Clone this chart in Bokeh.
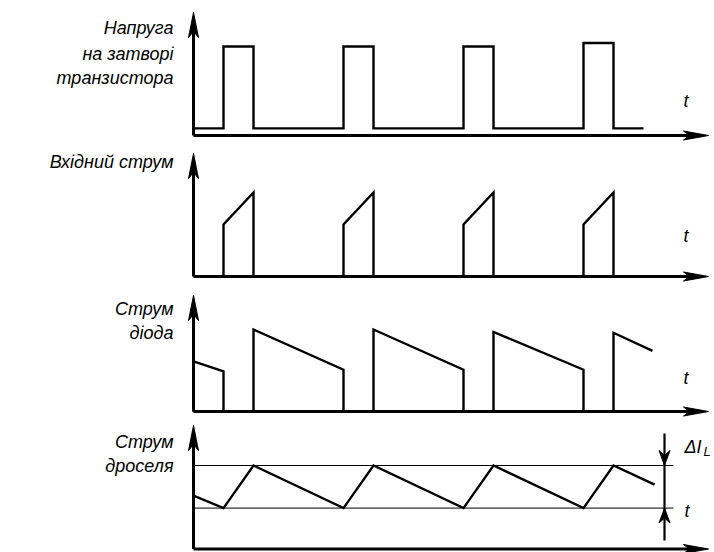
from bokeh.plotting import figure
from bokeh.layouts import column
from bokeh.models import Label, Range1d
from bokeh.embed import file_html
from bokeh.resources import INLINE

# ---------------- data (time in units, one switching period = 4 units) ----------------
pulse_on = [1, 5, 9, 13]
pulse_off = [2, 6, 10, 14]
t_end = 15

gate_low = 0.08
gate_high = [1.0, 1.0, 1.0, 1.04]

in_start = [0.62, 0.62, 0.62, 0.62]
in_peak = [1.0, 1.0, 1.0, 1.0]

diode_t0 = [0, 2, 6, 10, 14]
diode_t1 = [1, 5, 9, 13, 15.3]
diode_i0 = [0.61, 1.0, 1.0, 0.97, 0.96]
diode_i1 = [0.49, 0.51, 0.51, 0.51, 0.74]

ind_t = [0, 1, 2, 5, 6, 9, 10, 13, 14, 15.37]
ind_i = [0.64, 0.49, 1.0, 0.49, 1.0, 0.49, 1.0, 0.49, 1.0, 0.77]
ripple_max = 1.0
ripple_min = 0.49

labels_gate = ["Напруга", "на затворі", "транзистора"]
label_input = "Вхідний струм"
labels_diode = ["Струм", "діода"]
labels_ind = ["Струм", "дроселя"]
t_label = "t"

# ---------------- layout geometry (page pixels) ----------------
W = 714
X0 = 193          # page x of t = 0
PX_T = 30.0       # pixels per time unit
FONT = "Liberation Sans"

xr = Range1d(-X0 / PX_T, -X0 / PX_T + W / PX_T)

panels = [  # top, height, baseline, px per unit, arrow tip
    dict(top=0, h=141, base=135, s=89.0, tip=12),
    dict(top=141, h=141, base=276, s=84.0, tip=153),
    dict(top=282, h=135, base=411, s=82.0, tip=295),
    dict(top=417, h=135, base=548.5, s=83.5, tip=425),
]


def px(xp):
    return (xp - X0) / PX_T


def make_fig(g):
    yr = Range1d(-(g["top"] + g["h"] - g["base"]) / g["s"], (g["base"] - g["top"]) / g["s"])
    p = figure(width=W, height=g["h"], x_range=xr, y_range=yr, output_backend="svg",
               toolbar_location=None, min_border=0, x_axis_type=None, y_axis_type=None,
               outline_line_color=None)
    p.background_fill_color = "white"
    p.border_fill_color = "white"
    return p


def conv(g):
    return lambda yp: (g["base"] - yp) / g["s"]


def head(p, g, xt, yt, d, L, hw, notch):
    py = conv(g)
    if d == "up":
        pts = [(xt, yt), (xt - hw, yt + L), (xt, yt + L - notch), (xt + hw, yt + L)]
    elif d == "down":
        pts = [(xt, yt), (xt - hw, yt - L), (xt, yt - L + notch), (xt + hw, yt - L)]
    else:  # right
        pts = [(xt, yt), (xt - L, yt - hw), (xt - L + notch, yt), (xt - L, yt + hw)]
    p.patch([px(a) for a, b in pts], [py(b) for a, b in pts], color="black", line_width=1)


def axes(p, g):
    py = conv(g)
    p.line([0, 0], [0, py(g["tip"] + 14)], line_width=3, color="black")
    head(p, g, X0, g["tip"], "up", 25, 5, 6)
    p.line([0, px(694)], [0, 0], line_width=3, color="black")
    head(p, g, 708, g["base"], "right", 25, 4.5, 6)


def text(p, g, xp, yp, s, align="right", size="18px"):
    py = conv(g)
    p.add_layout(Label(x=px(xp), y=py(yp), text=s, text_align=align,
                       text_baseline="alphabetic", text_font=FONT,
                       text_font_style="italic", text_font_size=size, text_color="black"))


SIG = dict(line_width=2.4, color="black", line_join="miter")

# ---- panel 1: gate voltage ----
g = panels[0]
p1 = make_fig(g)
gx, gy = [0], [gate_low]
for a, b, hgh in zip(pulse_on, pulse_off, gate_high):
    gx += [a, a, b, b]
    gy += [gate_low, hgh, hgh, gate_low]
gx.append(t_end)
gy.append(gate_low)
p1.line(gx, gy, **SIG)
axes(p1, g)
for s, yb in zip(labels_gate, [27, 53, 77]):
    text(p1, g, 173, yb, s)
text(p1, g, 683, 100, t_label, align="left")

# ---- panel 2: input current ----
g = panels[1]
p2 = make_fig(g)
for a, b, i0, i1 in zip(pulse_on, pulse_off, in_start, in_peak):
    p2.line([a, a, b, b], [0, i0, i1, 0], **SIG)
axes(p2, g)
text(p2, g, 173, 161, label_input)
text(p2, g, 683, 235, t_label, align="left")

# ---- panel 3: diode current ----
g = panels[2]
p3 = make_fig(g)
for k, (a, b, i0, i1) in enumerate(zip(diode_t0, diode_t1, diode_i0, diode_i1)):
    xs, ys = [a, a, b], [0, i0, i1]
    if k < len(diode_t0) - 1:
        xs.append(b)
        ys.append(0)
    p3.line(xs, ys, **SIG)
axes(p3, g)
for s, yb in zip(labels_diode, [308, 332]):
    text(p3, g, 173, yb, s)
text(p3, g, 683, 377, t_label, align="left")

# ---- panel 4: inductor current ----
g = panels[3]
p4 = make_fig(g)
py4 = conv(g)
for lvl in (ripple_max, ripple_min):
    p4.line([0, px(673)], [lvl, lvl], line_width=1, color="black")
p4.line(ind_t, ind_i, **SIG)
xd = px(664)
p4.line([xd, xd], [py4(433), py4(540)], line_width=2.2, color="black")
head(p4, g, 664, g["base"] - ripple_max * g["s"], "down", 15, 5.5, 5)
head(p4, g, 664, g["base"] - ripple_min * g["s"], "up", 15, 5.5, 5)
axes(p4, g)
for s, yb in zip(labels_ind, [441, 465]):
    text(p4, g, 173, yb, s)
text(p4, g, 684, 510, t_label, align="left")
text(p4, g, 684, 446, "ΔI", align="left")
text(p4, g, 703, 451, "L", align="left", size="13px")

layout = column(p1, p2, p3, p4, spacing=0)
open("out.html", "w").write(file_html(layout, INLINE))
